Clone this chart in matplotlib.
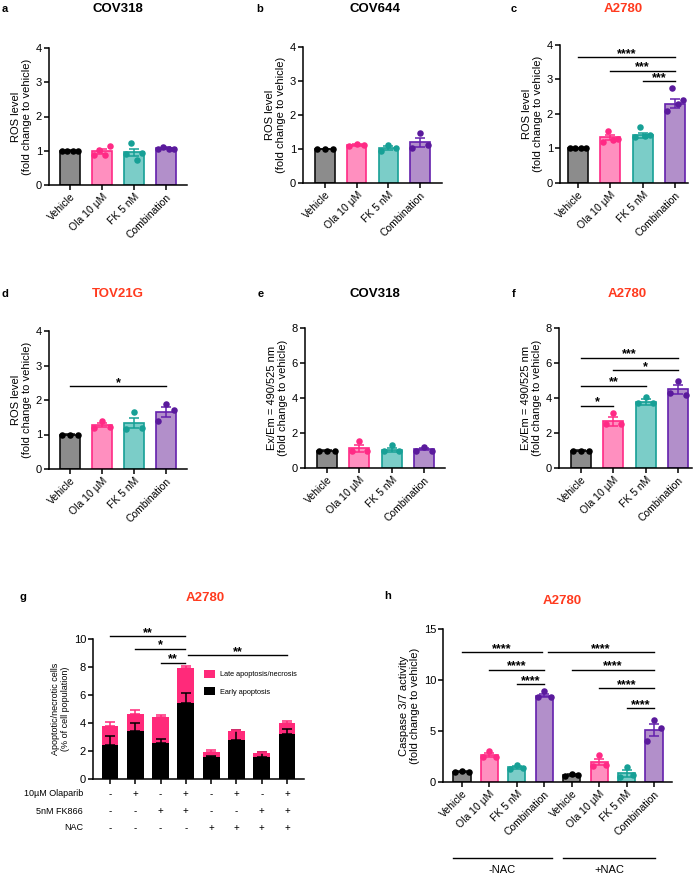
import matplotlib
matplotlib.use("Agg")
import matplotlib.pyplot as plt
import numpy as np

plt.rcParams["font.family"] = ["Liberation Sans", "DejaVu Sans"]
plt.rcParams["axes.linewidth"] = 1.1

W, H = 700, 874

# ---- data ----
groups = ["Vehicle", "Ola 10 µM", "FK 5 nM", "Combination"]
fills = ["#8c8c8c", "#ff8fbf", "#7bcdc8", "#b28fca"]
edges = ["#111111", "#ff2a85", "#17a096", "#6420ad"]
dots = ["#000000", "#ff2a85", "#17a096", "#5a1a9c"]
red = "#ff3a1e"

# a: COV318 ROS
a_mean = [1.0, 0.98, 0.95, 1.07]
a_sem = [0.01, 0.07, 0.10, 0.03]
a_pts = [[1.0, 1.0, 1.0, 1.0], [0.87, 1.02, 0.87, 1.14],
         [0.9, 1.23, 0.74, 0.92], [1.04, 1.1, 1.06, 1.06]]
# b: COV644 ROS
b_mean = [1.0, 1.12, 1.03, 1.2]
b_sem = [0.01, 0.04, 0.05, 0.13]
b_pts = [[1.0, 1.0, 1.0], [1.08, 1.15, 1.12], [0.95, 1.12, 1.02], [1.02, 1.47, 1.12]]
# c: A2780 ROS
c_mean = [1.0, 1.33, 1.38, 2.3]
c_sem = [0.01, 0.07, 0.08, 0.14]
c_pts = [[1.0, 1.0, 1.0, 1.0], [1.18, 1.52, 1.25, 1.28],
         [1.32, 1.62, 1.36, 1.38], [2.1, 2.75, 2.3, 2.4]]
c_sig = [(0, 3, 3.64, "****"), (1, 3, 3.25, "***"), (2, 3, 2.95, "***")]
# d: TOV21G ROS
d_mean = [1.0, 1.27, 1.34, 1.65]
d_sem = [0.01, 0.06, 0.15, 0.14]
d_pts = [[1.0, 1.0, 1.0], [1.2, 1.38, 1.22], [1.15, 1.65, 1.2], [1.4, 1.87, 1.7]]
d_sig = [(0, 3, 2.4, "*")]
# e: COV318 Ex/Em
e_mean = [1.0, 1.14, 1.05, 1.08]
e_sem = [0.01, 0.2, 0.12, 0.07]
e_pts = [[1.0, 1.0, 1.0], [1.0, 1.55, 1.0], [0.95, 1.3, 1.0], [1.0, 1.18, 1.0]]
# f: A2780 Ex/Em
f_mean = [1.0, 2.67, 3.77, 4.5]
f_sem = [0.01, 0.25, 0.16, 0.25]
f_pts = [[1.0, 1.0, 1.0], [2.5, 3.15, 2.5], [3.7, 4.07, 3.7], [4.3, 5.0, 4.2]]
f_sig = [(0, 1, 3.55, "*"), (0, 2, 4.7, "**"), (1, 3, 5.6, "*"), (0, 3, 6.3, "***")]

# g: A2780 apoptosis (stacked)
g_early = [2.45, 3.4, 2.6, 5.4, 1.55, 2.8, 1.55, 3.25]
g_early_err = [0.65, 0.6, 0.25, 0.75, 0.1, 0.7, 0.35, 0.35]
g_total = [3.8, 4.65, 4.45, 7.95, 1.95, 3.4, 1.85, 4.0]
g_total_err = [0.3, 0.3, 0.1, 0.1, 0.1, 0.1, 0.1, 0.15]
g_ola = ["-", "+", "-", "+", "-", "+", "-", "+"]
g_fk = ["-", "-", "+", "+", "-", "-", "+", "+"]
g_nac = ["-", "-", "-", "-", "+", "+", "+", "+"]
g_sig = [(0, 3 - 0.04, 10.2, "**"), (1, 3 - 0.04, 9.3, "*"),
         (2, 3 - 0.04, 8.3, "**"), (3 + 0.1, 7, 8.85, "**")]

# h: A2780 caspase 3/7
h_mean = [1.0, 2.65, 1.45, 8.45, 0.7, 1.95, 0.85, 5.1]
h_sem = [0.03, 0.2, 0.15, 0.15, 0.07, 0.3, 0.35, 0.6]
h_pts = [[1.0, 1.05, 1.0], [2.5, 3.0, 2.5], [1.3, 1.7, 1.4], [8.3, 8.9, 8.3],
         [0.6, 0.8, 0.7], [1.6, 2.6, 1.7], [0.5, 1.5, 0.7], [4.0, 6.1, 5.3]]
h_sig = [(0, 3 - 0.07, 12.75, "****"), (1, 3, 11.0, "****"), (2, 3, 9.6, "****"),
         (3 + 0.12, 7, 12.75, "****"), (4, 7, 11.0, "****"),
         (5, 7, 9.2, "****"), (6, 7, 7.25, "****")]

fig = plt.figure(figsize=(W / 100, H / 100), dpi=100)


def px_axes(x0, x1, ytop, ybot):
    return fig.add_axes([x0 / W, 1 - ybot / H, (x1 - x0) / W, (ybot - ytop) / H])


def style(ax, ylim, yticks, ylabel, yfs=8):
    ax.spines[["top", "right"]].set_visible(False)
    ax.set_ylim(*ylim)
    ax.set_yticks(yticks)
    ax.tick_params(length=3.5, width=1.1, labelsize=7.5, pad=1.5)
    ax.tick_params(axis="y", labelsize=8)
    ax.set_ylabel(ylabel, fontsize=yfs, labelpad=3, linespacing=1.1)


def sig_lines(ax, sig, fs=9):
    for i, j, y, s in sig:
        ax.plot([i, j], [y, y], color="black", lw=1.0, clip_on=False)
        ax.annotate(s, ((i + j) / 2, y), xytext=(0, -2), textcoords="offset points",
                    ha="center", va="bottom", fontsize=fs, fontweight="bold",
                    annotation_clip=False)


def bar_panel(box, b0, b3, mean, sem, pts, ylim, yticks, ylabel,
              letter, letter_x, letter_y, sig=(), labels=groups):
    x0, x1, ytop, ybot = box
    n = len(mean)
    s = (b3 - b0) / (n - 1)
    ax = px_axes(x0, x1, ytop, ybot)
    pos = np.arange(n)
    wid = 0.62
    col_i = [k % 4 for k in range(n)]
    ax.bar(pos, mean, width=wid, color=[fills[k] for k in col_i],
           edgecolor=[edges[k] for k in col_i], linewidth=1.2, zorder=2)
    for k in range(n):
        c = edges[col_i[k]]
        ax.errorbar(pos[k], mean[k], yerr=sem[k], color=c, capsize=3.5,
                    elinewidth=1.1, capthick=1.1, zorder=3)
        p = pts[k]
        off = np.linspace(-0.24, 0.24, len(p))
        ax.scatter(pos[k] + off, p, s=22, color=dots[col_i[k]], zorder=4,
                   linewidths=0, clip_on=False)
    ax.set_xlim(-(b0 - x0) / s, (n - 1) + (x1 - b3) / s)
    ax.set_xticks(pos)
    ax.set_xticklabels(labels, rotation=45, ha="right", rotation_mode="anchor",
                       fontsize=7.5)
    style(ax, ylim, yticks, ylabel)
    sig_lines(ax, sig)
    fig.text(letter_x / W, 1 - letter_y / H, letter, fontsize=8, fontweight="bold",
             va="center")
    return ax


def title(x, y, txt, color="black"):
    fig.text(x / W, 1 - y / H, txt, fontsize=9.5, fontweight="bold", color=color,
             ha="center", va="center")


ros = "ROS level\n(fold change to vehicle)"
exem = "Ex/Em = 490/525 nm\n(fold change to vehicle)"

bar_panel((49, 187, 48, 185), 70, 166, a_mean, a_sem, a_pts, (0, 4), range(5),
          ros, "a", 2, 9)
title(118, 9, "COV318")
bar_panel((303, 442, 47, 183), 325, 420, b_mean, b_sem, b_pts, (0, 4), range(5),
          ros, "b", 256, 9)
title(375, 9, "COV644")
bar_panel((560, 688, 45, 183), 578, 675, c_mean, c_sem, c_pts, (0, 4), range(5),
          ros, "c", 511, 9, sig=c_sig)
title(623, 9, "A2780", red)
bar_panel((49, 187, 331, 469), 70, 166, d_mean, d_sem, d_pts, (0, 4), range(5),
          ros, "d", 2, 294, sig=d_sig)
title(118, 294, "TOV21G", red)
bar_panel((305, 445, 328, 468), 327, 424, e_mean, e_sem, e_pts, (0, 8), range(0, 9, 2),
          exem, "e", 258, 294)
title(375, 294, "COV318")
bar_panel((559, 692, 328, 468), 581, 678, f_mean, f_sem, f_pts, (0, 8), range(0, 9, 2),
          exem, "f", 512, 294, sig=f_sig)
title(627, 294, "A2780", red)

# ---- g: stacked apoptosis ----
gx0, gx1, gyt, gyb = 93, 304, 639, 779
gb0, gb7 = 110, 287
gs = (gb7 - gb0) / 7
axg = px_axes(gx0, gx1, gyt, gyb)
gpos = np.arange(8)
late = np.array(g_total) - np.array(g_early)
pink = "#ff2a7a"
axg.bar(gpos, g_early, width=0.67, color="black", zorder=2, label="Early apoptosis")
axg.bar(gpos, late, bottom=g_early, width=0.67, color=pink, zorder=2,
        label="Late apoptosis/necrosis")
axg.errorbar(gpos, g_early, yerr=[np.zeros(8), g_early_err], fmt="none", ecolor="black",
             capsize=3.5, elinewidth=1.1, capthick=1.1, zorder=3)
axg.errorbar(gpos, g_total, yerr=[np.zeros(8), g_total_err], fmt="none", ecolor=pink,
             capsize=3.5, elinewidth=1.1, capthick=1.1, zorder=3)
axg.set_xlim(-(gb0 - gx0) / gs, 7 + (gx1 - gb7) / gs)
axg.set_xticks(gpos)
axg.set_xticklabels([])
style(axg, (0, 10), range(0, 11, 2), "Apoptotic/necrotic cells\n(% of cell population)", yfs=6.5)
sig_lines(axg, g_sig)
h_leg = axg.get_legend_handles_labels()
axg.legend(h_leg[0][::-1], h_leg[1][::-1], loc="upper left", bbox_to_anchor=(0.51, 0.80),
           frameon=False, fontsize=5.3, handlelength=1.5, handleheight=1.3,
           labelspacing=1.2, handletextpad=0.8, borderaxespad=0)
rows = [("10µM Olaparib", g_ola, -0.107), ("5nM FK866", g_fk, -0.229), ("NAC", g_nac, -0.35)]
tr = axg.get_xaxis_transform()
for name, vals, yy in rows:
    axg.text(-(gb0 - 83) / gs, yy, name, transform=tr, ha="right", va="center", fontsize=6.5)
    for k, v in enumerate(vals):
        axg.text(gpos[k], yy, v, transform=tr, ha="center", va="center", fontsize=7)
fig.text(20 / W, 1 - 597 / H, "g", fontsize=8, fontweight="bold", va="center")
title(205, 598, "A2780", red)

# ---- h: caspase ----
axh = bar_panel((443, 672, 629, 782), 462, 654, h_mean, h_sem, h_pts, (0, 15), [0, 5, 10, 15],
                "Caspase 3/7 activity\n(fold change to vehicle)", "h", 384, 596,
                sig=h_sig, labels=groups * 2)
title(562, 601, "A2780", red)
trh = axh.get_xaxis_transform()
for xa, xb, lab in [(-0.33, 3.28, "-NAC"), (3.69, 7.04, "+NAC")]:
    axh.plot([xa, xb], [-0.497, -0.497], color="black", lw=1.0, transform=trh, clip_on=False)
    axh.text((xa + xb) / 2, -0.54, lab, transform=trh, ha="center", va="top", fontsize=8)

fig.savefig("out.png", dpi=100)
